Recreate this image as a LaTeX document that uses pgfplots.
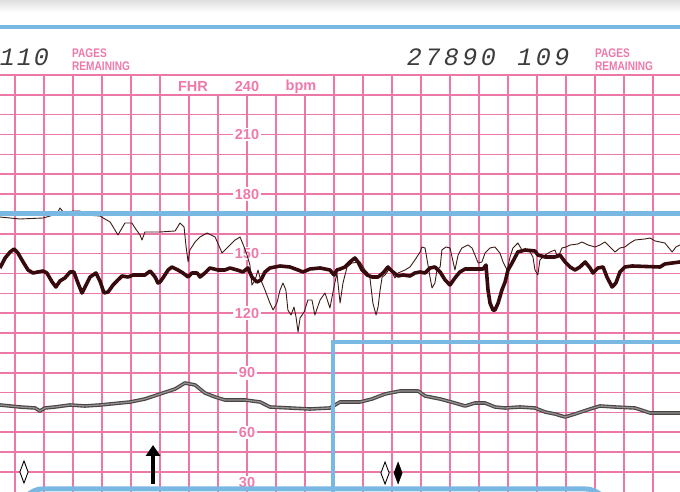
\documentclass[border=0pt]{standalone}
\usepackage{fontspec}
\setmainfont{Liberation Sans}
\newfontfamily\dotfont{Liberation Mono}
\usepackage{pgfplots}
\pgfplotsset{compat=1.18}
\usepackage{pgfplotstable}
\usetikzlibrary{arrows.meta}

\definecolor{gridpink}{RGB}{236,120,168}
\definecolor{labpink}{RGB}{238,122,172}
\definecolor{ctgblue}{RGB}{122,184,228}
\definecolor{thickc}{RGB}{55,10,14}
\definecolor{thinc}{RGB}{60,28,22}
\definecolor{mhrdark}{RGB}{72,68,68}
\definecolor{mhrlight}{RGB}{150,146,146}
\definecolor{dotgray}{RGB}{60,60,60}

% FHR trace 1 (thin): time [s], bpm
\pgfplotstableread{
t bpm
4.8 169
11.7 168
19.7 168.5
22.1 169.5
24.5 170.5
25.5 173.5
26.9 171
30.0 172
32.4 172
34.1 170
39.3 169.5
41.0 168
42.8 166.5
45.5 160
47.9 166
50.3 166
51.4 163.5
53.1 160
53.8 157.5
54.8 161.5
60.0 161.5
65.2 162
66.9 166
68.3 164
69.0 154
69.7 146.5
70.3 152.5
72.1 156.5
73.8 159
76.2 161
79.0 159
81.4 151
82.4 152.5
84.1 155
85.9 157.5
87.6 159
89.0 154
90.0 150
91.0 145
91.7 135
92.8 137.5
93.8 142.5
94.5 138.5
95.2 136
96.2 132.5
97.9 126
99.0 122.5
100.3 126
101.4 132.5
102.4 136
103.4 132.5
104.1 122.5
105.2 120
106.2 124
106.9 119
107.6 111.5
108.3 118.5
109.7 121.5
111.0 127.5
112.4 127.5
113.4 120
115.2 127.5
116.9 131
118.6 123.5
120.0 134
121.0 141
122.1 126
123.1 136
124.5 144
126.2 146
129.0 146.5
130.7 142.5
131.7 141
132.4 138.5
133.4 126
134.5 120
135.2 124
135.9 132.5
136.6 139
137.6 140
139.3 143.5
141.0 138.5
142.1 141
144.5 142.5
146.2 144
147.9 147.5
149.7 151.5
150.3 154
151.4 153.5
152.4 145
153.1 139
153.8 133.5
154.8 136
155.5 142.5
156.6 144
157.2 152.5
158.6 154
160.0 153.5
160.7 149
161.7 142.5
162.8 150
164.1 153.5
166.2 155
167.6 153.5
168.6 150
169.7 146
171.0 146.5
172.1 151
173.8 153.5
175.5 154
177.2 151
178.3 146.5
179.7 142.5
180.7 149
181.7 153.5
183.4 156
184.8 152.5
187.6 151.5
188.6 149
189.3 142.5
190.3 140
191.0 147.5
192.8 150
194.5 151.5
196.2 152.5
197.2 148.5
198.6 153.5
200.0 154
201.4 155
204.1 155.5
205.5 156.5
207.6 155
210.0 154
211.7 155
213.4 156.5
215.2 154
216.9 151.5
218.6 153.5
220.3 154
222.1 156
223.8 157.5
227.2 158
229.0 158.5
230.7 157
234.1 156
236.6 151.5
237.9 154
239.3 155
}\fhrthin

% FHR trace 2 (thick)
\pgfplotstableread{
t bpm
4.8 143.5
6.6 148.5
8.3 151.5
9.7 153
11.0 151
12.8 146.5
14.5 142.5
16.2 141
17.9 141.5
19.7 142
21.0 141
22.8 136.5
24.1 134
25.5 137
27.2 138.5
29.0 141.5
30.3 141.5
31.7 136
33.1 131
34.5 135
35.9 139
37.9 141
39.3 137
40.7 131
42.1 131.5
43.8 135
45.5 137.5
46.9 139.5
49.0 139
50.7 140
54.8 140
56.6 142
58.3 139
59.3 136
60.0 136.5
61.0 138.5
62.8 142.5
64.1 144
66.2 142.5
67.9 141
69.7 139
71.0 141
72.8 141
73.8 139
75.5 141
77.2 143.5
80.0 142.5
82.4 142.5
84.1 143.5
86.6 142.5
88.6 141.5
90.3 143.5
91.7 139
93.4 136.5
94.8 137.5
96.2 141.5
97.9 143.5
101.4 144.5
104.8 144
107.6 142.5
109.3 141.5
111.7 143
115.2 143.5
118.6 142.5
120.0 140
121.0 142.5
122.1 143
123.8 144
125.5 146.5
127.2 148.5
128.3 146.5
129.7 142.5
131.4 140
133.1 139
135.2 139
136.9 141
138.6 144
140.3 141.5
142.1 139.5
143.8 140
146.2 139.5
147.9 141
149.7 141.5
151.4 141
153.1 143.5
154.8 144
156.6 141.5
158.3 137.5
160.0 135
161.7 138.5
163.4 141.5
165.2 143
171.4 143
172.4 145
173.1 132.5
173.8 126
174.8 122.5
175.5 122.5
176.6 126
177.9 132.5
179.0 136.5
180.0 142.5
181.4 146
183.4 151.5
185.9 152.5
189.3 152
190.3 150
192.8 149
196.2 149
197.9 150
199.7 146.5
201.4 144
203.1 142.5
204.8 144
206.6 146.5
208.3 143.5
209.3 141
211.0 143.5
212.8 144
214.1 139
215.9 134
217.2 136
218.6 141.5
220.3 144
222.8 144.5
232.4 144
234.1 145.5
236.6 146
239.3 146.5
}\fhrthick

% maternal heart rate (lower trace)
\pgfplotstableread{
t bpm
4.8 75
11.7 74
16.9 73.5
18.6 72
20.3 73.5
23.8 74
29.0 75
34.1 74.5
39.3 75
46.2 76
49.7 76.5
54.8 78
60.0 80.5
65.2 83
68.6 86
72.1 85
75.5 81
79.0 79
82.4 77.5
89.3 77.5
94.5 76.5
97.9 74
104.8 73.5
111.7 73
118.6 73.5
122.1 76.5
129.0 76.5
133.1 78
137.6 80.5
142.8 82
149.0 82
151.4 79.5
156.6 78
161.7 76
165.2 74.5
168.6 76
172.1 76
175.5 74
179.0 73.5
184.1 74
189.3 73.5
192.8 71.5
196.2 70.5
199.7 69
203.1 70.5
208.3 73
211.7 74.5
216.9 74
223.8 73.5
229.0 71
234.1 71
239.3 71
}\mhr

\newcommand{\dm}[1]{\makebox[18.5pt][c]{#1}}
\newcommand{\dms}[1]{\makebox[17pt][c]{#1}}

\begin{document}
\begin{tikzpicture}
\useasboundingbox (0,0) rectangle (680pt,492pt);
\clip (0,0) rectangle (680pt,492pt);
\fill[white] (0,0) rectangle (680pt,492pt);

% ---- paper: background, grid and scale labels (pixel coordinates) ----
\begin{scope}[x=1pt,y=-1pt,yshift=492pt]
  \shade[top color={rgb,255:red,222;green,222;blue,222}, bottom color=white] (0,0) rectangle (680,12);
  \foreach \k in {0,...,22}{
    \pgfmathsetmacro\xx{15+29*\k}
    \draw[gridpink, line width=1.6pt] (\xx,75) -- (\xx,492);
  }
  \foreach \xx in {160,334,508}{
    \draw[gridpink, line width=2.7pt] (\xx,75) -- (\xx,492);
  }
  \foreach \j in {0,...,20}{
    \pgfmathsetmacro\yy{75+19.85*\j}
    \draw[gridpink, line width=1.6pt] (0,\yy) -- (680,\yy);
  }
  \fill[white] (161.6,76.2) rectangle (332.4,93.8);
  \tikzset{lab/.style={fill=white, inner sep=1.6pt, text=labpink,
      font=\bfseries\fontsize{14.5}{15}\selectfont}}
  \node[lab, fill=none] at (193,87) {FHR};
  \node[lab, fill=none] at (247,87) {240};
  \node[lab, fill=none] at (301,87) {bpm};
  \node[lab] at (247,134.6) {210};
  \node[lab] at (247,194.1) {180};
  \node[lab] at (247,253.6) {150};
  \node[lab] at (247,313.2) {120};
  \node[lab] at (247,372.8) {90};
  \node[lab] at (247,432.4) {60};
  \node[lab, inner sep=1pt] at (247,482.5) {30};
  % header texts
  \tikzset{pg/.style={anchor=base west, inner sep=0pt, text=labpink,
      font=\bfseries\fontsize{12.5}{13}\selectfont, xscale=0.81}}
  \node[pg] at (72,58) {PAGES};
  \node[pg] at (72,71) {REMAINING};
  \node[pg] at (595,58) {PAGES};
  \node[pg] at (595,71) {REMAINING};
  \tikzset{dmx/.style={inner sep=0pt, text=dotgray,
      font=\dotfont\itshape\fontsize{25}{25}\selectfont}}
  \node[dmx, anchor=base east] at (50,66) {\dms{1}\dms{1}\dms{0}};
  \node[dmx, anchor=base west] at (405,66) {\dm{2}\dm{7}\dm{8}\dm{9}\dm{0}\hspace{18pt}\dm{1}\dm{0}\dm{9}};
\end{scope}

% ---- traces ----
\begin{axis}[
  at={(0,0)}, anchor=south west,
  scale only axis, width=680pt, height=492pt,
  xmin=4.828, xmax=239.31, ymin=31.5, ymax=277.5,
  hide axis, clip=true,
]
  \addplot[mhrdark, line width=3.6pt, line join=round] table[x=t,y=bpm]{\mhr};
  \addplot[mhrlight, line width=1.3pt, line join=round] table[x=t,y=bpm]{\mhr};
  \addplot[thinc, line width=0.9pt, line join=round] table[x=t,y=bpm]{\fhrthin};
  \addplot[thickc, line width=3.6pt, line join=round] table[x=t,y=bpm]{\fhrthick};
  % event markers
  \addplot[only marks, mark=diamond*, mark size=11pt, mark options={xscale=0.5, fill=white, draw=black, line width=0.9pt}]
    coordinates {(13.1,41.5) (137.6,41)};
  \addplot[only marks, mark=diamond*, mark size=11pt, mark options={xscale=0.5, fill=black, draw=black}]
    coordinates {(142.1,41)};
  \addplot[black, line width=4.5pt, -{Triangle[width=14pt,length=11pt]}]
    coordinates {(57.6,35.5) (57.6,55)};
\end{axis}

% ---- blue printed lines on top ----
\begin{scope}[x=1pt,y=-1pt,yshift=492pt]
  \draw[ctgblue, line width=4pt] (-5,27) -- (685,27);
  \draw[ctgblue, line width=5pt] (-5,213.5) -- (685,213.5);
  \draw[ctgblue, line width=4.5pt] (333,505) -- (333,342) -- (690,342);
  \draw[ctgblue, line width=5pt, rounded corners=12pt] (18,510) -- (30,489) -- (598,489) -- (612,510);
\end{scope}
\end{tikzpicture}
\end{document}
